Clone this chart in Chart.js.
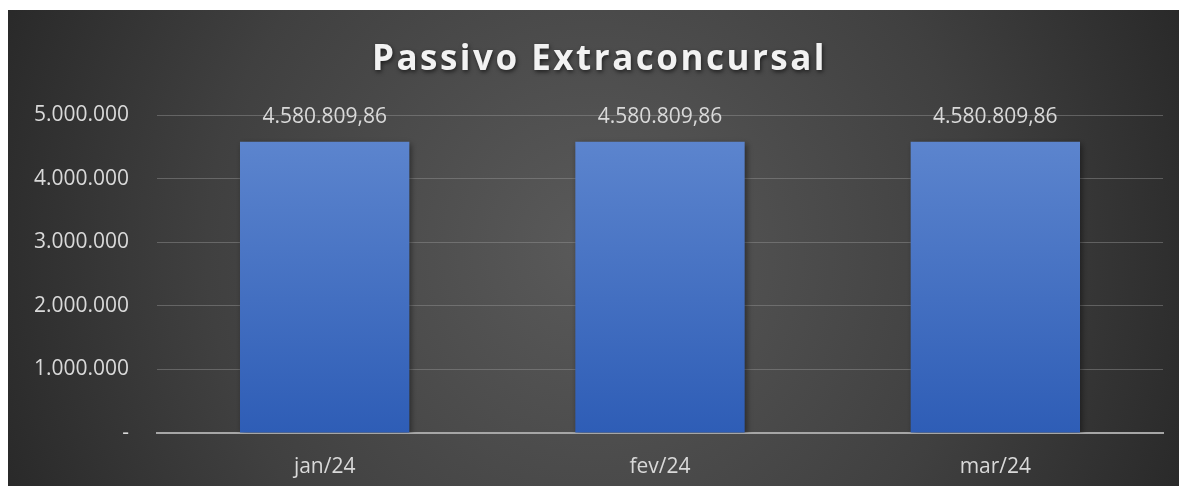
<!DOCTYPE html>
<html>
<head>
<meta charset="utf-8">
<script src="https://cdn.jsdelivr.net/npm/chart.js@4"></script>
<style>
  html, body { margin: 0; padding: 0; background: #fff; }
  #wrap { position: absolute; left: 8px; top: 10px; width: 1171px; height: 476px; }
</style>
</head>
<body>
<div id="wrap"><canvas id="grafico"></canvas></div>
<script>
const meses = ['jan/24', 'fev/24', 'mar/24'];
const passivo = [4580809.86, 4580809.86, 4580809.86];
const titulo = 'Passivo Extraconcursal';

const corTexto = '#d9d9d9';
const fonte = '"Open Sans", "Noto Sans", sans-serif';

// fundo escuro com gradiente radial
const fundo = {
    id: 'fundo',
    beforeDraw(chart) {
        const ctx = chart.ctx;
        const w = chart.width, h = chart.height;
        const g = ctx.createRadialGradient(w * 0.5, h * 0.5, 0, w * 0.5, h * 0.5, w * 0.6);
        g.addColorStop(0, '#5a5a5a');
        g.addColorStop(0.55, '#404040');
        g.addColorStop(1, '#232323');
        ctx.save();
        ctx.fillStyle = g;
        ctx.fillRect(0, 0, w, h);
        ctx.restore();
    }
};

// titulo com espaçamento entre letras e sombra
const cabecalho = {
    id: 'cabecalho',
    afterDraw(chart) {
        const ctx = chart.ctx;
        ctx.save();
        ctx.font = 'bold 35px ' + fonte;
        ctx.letterSpacing = '2.5px';
        ctx.textAlign = 'center';
        ctx.textBaseline = 'middle';
        ctx.shadowColor = 'rgba(0,0,0,0.6)';
        ctx.shadowBlur = 4;
        ctx.shadowOffsetX = 1;
        ctx.shadowOffsetY = 2;
        ctx.fillStyle = '#f2f2f2';
        ctx.fillText(titulo, chart.width / 2 + 6, 50);
        ctx.restore();
    }
};

// sombra leve nas barras
const sombra = {
    id: 'sombra',
    beforeDatasetDraw(chart) {
        const ctx = chart.ctx;
        ctx.save();
        ctx.shadowColor = 'rgba(0,0,0,0.45)';
        ctx.shadowBlur = 6;
        ctx.shadowOffsetX = 2;
        ctx.shadowOffsetY = 2;
    },
    afterDatasetDraw(chart) {
        chart.ctx.restore();
    }
};

// rótulos de valor acima das barras
const rotulos = {
    id: 'rotulos',
    afterDatasetsDraw(chart) {
        const ctx = chart.ctx;
        const meta = chart.getDatasetMeta(0);
        ctx.save();
        ctx.fillStyle = corTexto;
        ctx.font = '21px ' + fonte;
        ctx.textAlign = 'center';
        ctx.textBaseline = 'middle';
        meta.data.forEach((bar, i) => {
            const txt = passivo[i].toLocaleString('pt-BR', { minimumFractionDigits: 2, maximumFractionDigits: 2 });
            ctx.fillText(txt, bar.x, bar.y - 25);
        });
        ctx.restore();
    }
};

const ctx = document.getElementById('grafico').getContext('2d');

new Chart(ctx, {
    type: 'bar',
    data: {
        labels: meses,
        datasets: [{
            data: passivo,
            backgroundColor: function(context) {
                const area = context.chart.chartArea;
                if (!area) return '#4472c4';
                const g = context.chart.ctx.createLinearGradient(0, area.top, 0, area.bottom);
                g.addColorStop(0, '#6088d0');
                g.addColorStop(1, '#2e5db6');
                return g;
            },
            borderWidth: 0,
            categoryPercentage: 1,
            barPercentage: 0.505
        }]
    },
    options: {
        responsive: true,
        maintainAspectRatio: false,
        animation: false,
        layout: { padding: { top: 105, right: 16, left: 0, bottom: 0 } },
        plugins: {
            legend: { display: false },
            tooltip: { enabled: false },
            title: { display: false }
        },
        scales: {
            x: {
                grid: { display: false, drawTicks: false },
                border: { display: true, color: '#a6a6a6', width: 2 },
                ticks: { color: corTexto, font: { family: fonte, size: 21 }, padding: 21 },
                afterFit(scale) { scale.height = 53; }
            },
            y: {
                min: 0,
                max: 5000000,
                grid: { color: 'rgba(150,150,150,0.45)', drawTicks: false, lineWidth: 1 },
                border: { display: false },
                ticks: {
                    stepSize: 1000000,
                    color: corTexto,
                    font: { family: fonte, size: 21 },
                    padding: 28,
                    callback: v => v === 0 ? '-' : v.toLocaleString('pt-BR')
                },
                afterFit(scale) { scale.width = 149; }
            }
        }
    },
    plugins: [fundo, sombra, rotulos, cabecalho]
});
</script>
</body>
</html>
